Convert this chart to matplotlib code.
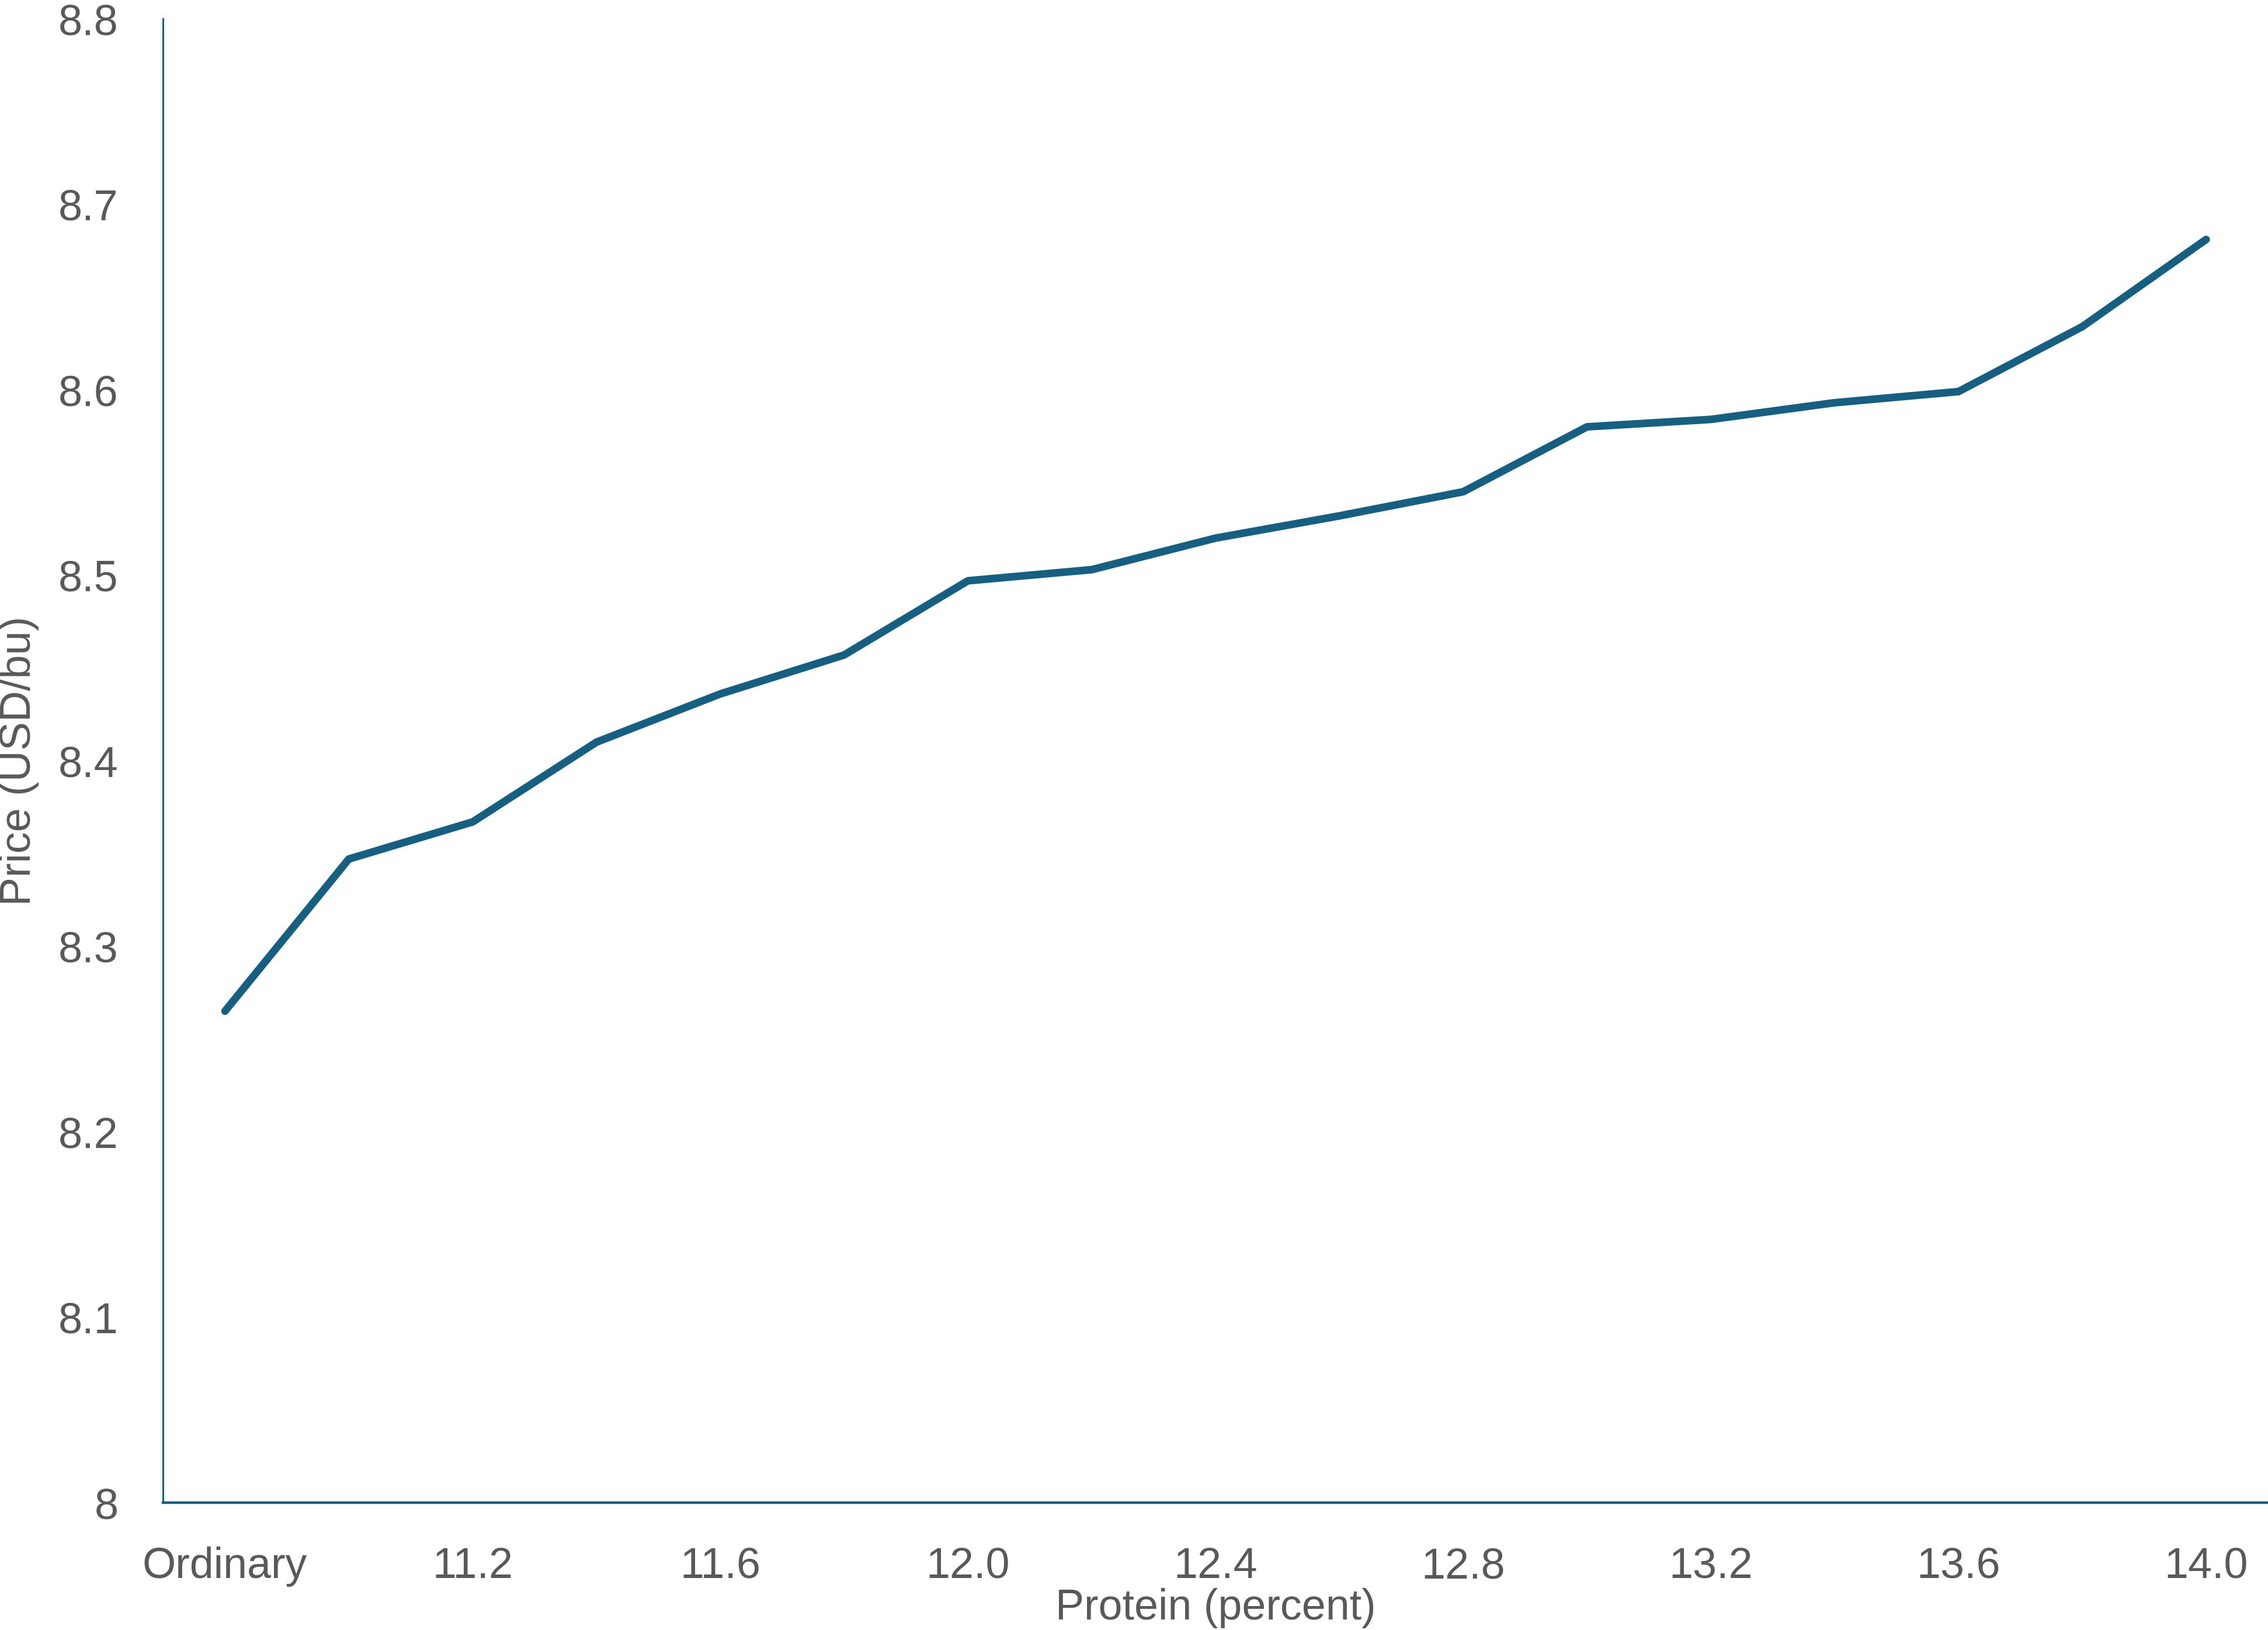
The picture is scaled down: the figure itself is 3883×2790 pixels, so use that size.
import matplotlib
matplotlib.use("Agg")
import matplotlib.pyplot as plt
from matplotlib.ticker import FormatStrFormatter

# Categorias del eje X (Ordinary + proteina 11.0 .. 14.0)
categories = ["Ordinary", "11.0", "11.2", "11.4", "11.6", "11.8", "12.0", "12.2",
              "12.4", "12.6", "12.8", "13.0", "13.2", "13.4", "13.6", "13.8", "14.0"]
# Precio en USD/bu
prices = [8.265, 8.347, 8.367, 8.410, 8.436, 8.457, 8.497, 8.503,
          8.520, 8.532, 8.545, 8.580, 8.584, 8.593, 8.599, 8.634, 8.681]
y_ticks = [8.0, 8.1, 8.2, 8.3, 8.4, 8.5, 8.6, 8.7, 8.8]

blue = "#156082"
gray = "#595959"
plt.rcParams['font.family'] = ['Liberation Sans', 'DejaVu Sans']

fig = plt.figure(figsize=(38.83, 27.90), dpi=100)
ax = fig.add_axes([0.0719, 0.0781, 0.9281, 0.9104])

x = list(range(len(categories)))
ax.plot(x, prices, color=blue, linewidth=9.4,
        solid_capstyle='round', solid_joinstyle='round')

ax.set_xlim(-0.5, len(categories) - 0.5)
ax.set_ylim(8.0, 8.8)
ax.set_yticks(y_ticks)
ax.yaxis.set_major_formatter(FormatStrFormatter('%g'))
ax.set_xticks(x[::2])
ax.set_xticklabels(categories[::2])

ax.tick_params(axis='both', length=0, labelsize=53, labelcolor=gray)
ax.tick_params(axis='x', pad=54)
ax.tick_params(axis='y', pad=55)

for side in ['top', 'right']:
    ax.spines[side].set_visible(False)
ax.spines['left'].set_color(blue)
ax.spines['left'].set_linewidth(2.2)
ax.spines['bottom'].set_color(blue)
ax.spines['bottom'].set_linewidth(3.2)

ax.set_xlabel("Protein (percent)", fontsize=53, color=gray, va='center')
ax.xaxis.set_label_coords(0.5, -0.0712)
ax.set_ylabel("Price (USD/bu)", fontsize=53, color=gray, va='center')
ax.yaxis.set_label_coords(-0.0685, 0.5)

fig.savefig("out.png", dpi=100)
